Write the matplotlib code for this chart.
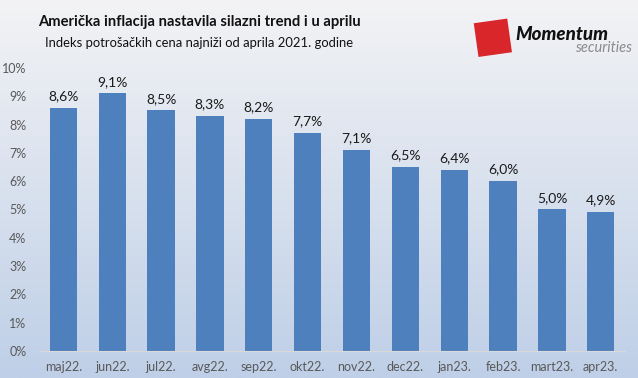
import numpy as np
import matplotlib
matplotlib.use("Agg")
import matplotlib.pyplot as plt
from matplotlib.patches import Rectangle
import matplotlib.transforms as mtransforms

plt.rcParams['font.family'] = ['Lato', 'DejaVu Sans']

months = ["maj22.", "jun22.", "jul22.", "avg22.", "sep22.", "okt22.",
          "nov22.", "dec22.", "jan23.", "feb23.", "mart23.", "apr23."]
inflation = [8.6, 9.1, 8.5, 8.3, 8.2, 7.7, 7.1, 6.5, 6.4, 6.0, 5.0, 4.9]
y_ticks = list(range(0, 11))

fig = plt.figure(figsize=(6.38, 3.78), dpi=100)

# gradient background
bg = fig.add_axes([0, 0, 1, 1], zorder=-10)
top = np.array([243, 243, 245]) / 255
bottom = np.array([190, 207, 231]) / 255
t = np.linspace(0, 1, 256)[:, None]
grad = top * (1 - t) + bottom * t
bg.imshow(grad[:, None, :], aspect='auto', extent=[0, 1, 0, 1])
bg.axis('off')

ax = fig.add_axes([0.061, 0.0714, 0.919, 0.749])
ax.patch.set_alpha(0)
x = np.arange(len(months))
bars = ax.bar(x, inflation, width=0.56, color='#4e80bd')
for xi, v in zip(x, inflation):
    ax.text(xi, v + 0.2, f"{v:.1f}%".replace('.', ','), ha='center', va='bottom',
            fontsize=10, color='#1a1a1a')

ax.set_xlim(-0.5, len(months) - 0.5)
ax.set_ylim(0, 10)
ax.set_yticks(y_ticks)
ax.set_yticklabels([f"{v}%" for v in y_ticks])
ax.set_xticks(x)
ax.set_xticklabels(months)
ax.tick_params(axis='both', length=0, labelsize=9, colors='#595959')
ax.tick_params(axis='x', pad=7)
ax.tick_params(axis='y', pad=9)
for s in ['top', 'right', 'left']:
    ax.spines[s].set_visible(False)
ax.spines['bottom'].set_color('#d9d9d9')

# titles
fig.text(0.312, 0.942, "Američka inflacija nastavila silazni trend i u aprilu",
         ha='center', va='center', fontsize=10.6, fontweight='bold', color='#111111')
fig.text(0.312, 0.886, "Indeks potrošačkih cena najniži od aprila 2021. godine",
         ha='center', va='center', fontsize=9.4, color='#111111')

# logo
logo = Rectangle((0.746, 0.855), 0.053, 0.09, transform=fig.transFigure,
                 facecolor='#d9262b', edgecolor='none')
rot = mtransforms.Affine2D().rotate_deg_around(0.772 * 638, 0.9 * 378, 8)
logo.set_transform(fig.transFigure + rot)
fig.patches.append(logo)
fig.text(0.807, 0.91, "Momentum", ha='left', va='center', fontsize=13.5,
         fontweight='black', style='italic', color='#111111')
fig.text(0.99, 0.872, "securities", ha='right', va='center', fontsize=10.5,
         style='italic', color='#8a8a8a')

fig.savefig("out.png", dpi=100)
